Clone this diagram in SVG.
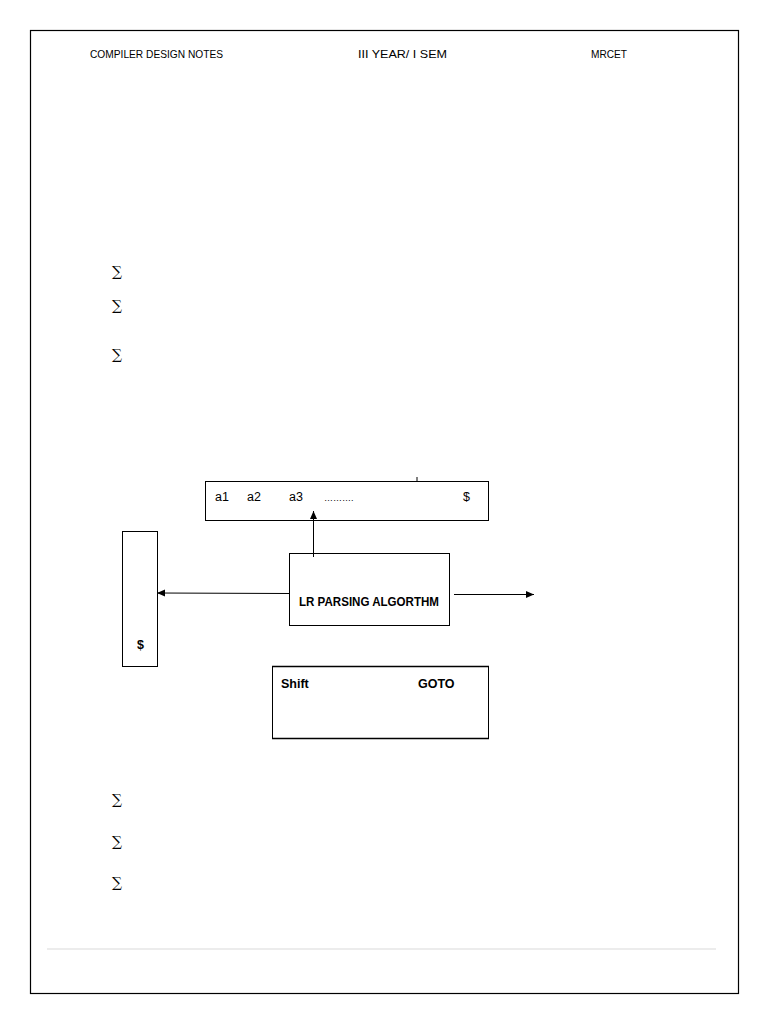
<svg xmlns="http://www.w3.org/2000/svg" width="768" height="1024" viewBox="0 0 768 1024">
<defs>
<style>
.t{font-family:"Liberation Sans",Arial,sans-serif;fill:#000}
.h{font-size:10.5px}
.b{font-weight:bold;font-size:12.5px}
.s{font-family:"DejaVu Serif","Liberation Serif",serif;font-size:14px}
.box{fill:#fff;stroke:#000;stroke-width:1}
.ln{stroke:#000;stroke-width:1;fill:none}
</style>
<marker id="ah" markerWidth="9" markerHeight="9" refX="8" refY="4.5" orient="auto" markerUnits="userSpaceOnUse">
<path d="M0,1 L8,4.5 L0,8 Z" fill="#000"/>
</marker>
</defs>
<rect x="0" y="0" width="768" height="1024" fill="#fff"/>
<rect x="30.5" y="30.5" width="708" height="963" fill="none" stroke="#000" stroke-width="1.2"/>
<line x1="47" y1="949" x2="716" y2="949" stroke="#e6e6e6" stroke-width="1.5"/>
<g id="header">
<text class="t h" x="90" y="58" textLength="133" lengthAdjust="spacingAndGlyphs">COMPILER DESIGN NOTES</text>
<text class="t h" x="358" y="58" textLength="89" lengthAdjust="spacingAndGlyphs">III YEAR/ I SEM</text>
<text class="t h" x="591" y="58" textLength="36" lengthAdjust="spacingAndGlyphs">MRCET</text>
</g>
<g id="bullets">
<text class="s" x="112" y="276">∑</text>
<text class="s" x="112" y="310">∑</text>
<text class="s" x="112" y="359">∑</text>
<text class="s" x="112" y="804">∑</text>
<text class="s" x="112" y="846">∑</text>
<text class="s" x="112" y="887">∑</text>
</g>
<g id="input">
<rect class="box" x="205.5" y="481.5" width="283" height="39"/>
<line class="ln" x1="417" y1="477" x2="417" y2="481"/>
<text class="t" font-size="12.5" x="215" y="501">a1</text>
<text class="t" font-size="12.5" x="247" y="501">a2</text>
<text class="t" font-size="12.5" x="289" y="501">a3</text>
<text class="t" font-size="9" x="324" y="501">……….</text>
<text class="t" font-size="12.5" x="463" y="501">$</text>
</g>
<g id="stack">
<rect class="box" x="122.5" y="531.5" width="35" height="135"/>
<text class="t b" x="137" y="649">$</text>
</g>
<g id="lr">
<rect class="box" x="289.5" y="553.5" width="160" height="72"/>
<text class="t b" x="299" y="606" textLength="140" lengthAdjust="spacingAndGlyphs">LR PARSING ALGORTHM</text>
</g>
<g id="table">
<rect class="box" x="272.5" y="666.5" width="216" height="72"/>
<line x1="272" y1="666.5" x2="489" y2="666.5" stroke="#000" stroke-width="1.5"/>
<line x1="272" y1="738.5" x2="489" y2="738.5" stroke="#000" stroke-width="1.5"/>
<text class="t b" x="281" y="688">Shift</text>
<text class="t b" x="418" y="688">GOTO</text>
</g>
<g id="connectors">
<line class="ln" x1="313.5" y1="557" x2="313.5" y2="511" marker-end="url(#ah)"/>
<line class="ln" x1="289" y1="593.5" x2="157" y2="593" marker-end="url(#ah)"/>
<line class="ln" x1="454" y1="594.5" x2="534" y2="594.5" marker-end="url(#ah)"/>
</g>
</svg>
